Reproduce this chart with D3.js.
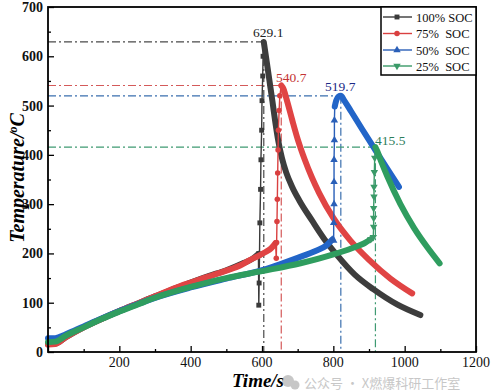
<!DOCTYPE html>
<html><head><meta charset="utf-8">
<script src="https://cdn.jsdelivr.net/npm/d3@7"></script>
<style>body{margin:0;background:#fff}svg{display:block}</style>
</head><body>
<svg id="c" width="492" height="392"></svg>
<script>
// ---- data ----
const seriesNames = ["100% SOC", "75%  SOC", "50%  SOC", "25%  SOC"];
const timeTicks = [200, 400, 600, 800, 1000, 1200];
const tempTicks = [0, 100, 200, 300, 400, 500, 600, 700];
const peakTimes = [605, 654, 821, 918];
const peakTemps = [629.1, 540.7, 519.7, 415.5];
const peakLabels = ["629.1", "540.7", "519.7", "415.5"];

const soc100Base = [[0,16],[20,17],[50,30],[100,50],[150,67],[200,83],[250,98],[300,113],[350,127],[400,141],[450,154],[500,166],[550,181],[575,190],[590,199]];
const soc100Rise = [[590,199],[591,95],[592,140],[593,197],[594,262],[596,330],[597,390],[599,450],[600,510],[602,560],[603,600],[605,629.1]];
const soc100Decay = [[605,629.1],[613,590],[621,550],[629,510],[637,468],[646,427],[656,393],[668,364],[684,336],[705,307],[741,266],[775,229],[811,196],[860,157],[913,127],[980,96],[1044,75]];

const soc75Base = [[0,15],[20,16],[50,30],[100,50],[150,67],[200,83],[250,98],[300,113],[371,134],[400,141],[450,153],[500,165],[540,176],[567,187],[590,195],[610,203],[625,210],[638,221]];
const soc75Rise = [[638,221],[640,190],[641,222],[642,265],[643,310],[644,363],[645,410],[646,450],[648,490],[650,520],[654,540.7]];
const soc75Decay = [[654,540.7],[660,534],[670,510],[685,470],[700,432],[720,390],[740,354],[760,323],[800,272],[848,226],[900,187],[960,149],[1021,119]];

const soc50Base = [[0,28],[20,28],[50,36],[100,52],[150,68],[200,83],[250,97],[300,110],[400,131],[500,149],[600,166],[650,178],[700,191],[750,205],[780,216],[797,228]];
const soc50Rise = [[797,228],[801,226],[801,262],[802,300],[802,345],[802,390],[803,430],[803,470],[804,498]];
const soc50Decay = [[804,498],[808,510],[814,518],[821,519.7],[830,511],[850,488],[880,453],[914,414],[950,373],[984,335]];

const soc25Base = [[0,20],[20,21],[50,33],[100,50],[150,67],[200,82],[250,96],[300,110],[370,126],[400,132],[500,150],[600,164],[708,180],[800,198],[850,210],[890,222],[905,229]];
const soc25Rise = [[905,229],[912,233],[913,254],[913,272],[913,292],[914,315],[914,335],[915,365],[916,394],[918,415.5]];
const soc25Decay = [[918,415.5],[923,408],[935,385],[951,357],[988,300],[1026,252],[1063,213],[1098,180]];

// ---- styles ----
const lineColors = ["#3d3d3d", "#e04444", "#2265c8", "#2f9d5f"];
const markColors = ["#3a3a3a", "#d94040", "#2a5fb8", "#3a9a68"];
const dashColors = ["#4a4a4a", "#d45a5a", "#3a6fae", "#3f9a72"];
const labelColors = ["#222222", "#c43434", "#1c2a86", "#2e7d5b"];
const symbols = [d3.symbolSquare, d3.symbolCircle, d3.symbolTriangle, d3.symbolTriangle];
const symRot = [0, 0, 0, 180];

const series = [
  {base: soc100Base, rise: soc100Rise, decay: soc100Decay},
  {base: soc75Base, rise: soc75Rise, decay: soc75Decay},
  {base: soc50Base, rise: soc50Rise, decay: soc50Decay},
  {base: soc25Base, rise: soc25Rise, decay: soc25Decay}
];

const svg = d3.select("#c");
const L = 48, R = 476, T = 7, B = 352;
const x = d3.scaleLinear().domain([0, 1200]).range([L, R]);
const y = d3.scaleLinear().domain([0, 700]).range([B, T]);
const serif = "'Liberation Serif','Times New Roman',serif";

// dash-dot guide lines
const g0 = svg.append("g");
peakTimes.forEach((pt, i) => {
  const py = y(peakTemps[i]), px = x(pt);
  g0.append("line").attr("x1", x(0)).attr("x2", px).attr("y1", py).attr("y2", py)
    .attr("stroke", dashColors[i]).attr("stroke-width", 1.2).attr("stroke-dasharray", "8,3,2,3");
  g0.append("line").attr("x1", px).attr("x2", px).attr("y1", py).attr("y2", y(0))
    .attr("stroke", dashColors[i]).attr("stroke-width", 1.2).attr("stroke-dasharray", "8,3,2,3");
});

// series
const smooth = d3.line().x(d => x(d[0])).y(d => y(d[1])).curve(d3.curveMonotoneX);
const straight = d3.line().x(d => x(d[0])).y(d => y(d[1]));
series.forEach((s, i) => {
  const g = svg.append("g");
  g.append("path").attr("d", smooth(s.base)).attr("fill", "none")
    .attr("stroke", lineColors[i]).attr("stroke-width", 6).attr("stroke-linecap", "round").attr("stroke-linejoin", "round");
  g.append("path").attr("d", straight(s.rise)).attr("fill", "none")
    .attr("stroke", markColors[i]).attr("stroke-width", 1.4);
  g.selectAll("path.m").data(s.rise.slice(0, -1)).enter().append("path")
    .attr("d", d3.symbol().type(symbols[i]).size(24))
    .attr("transform", d => `translate(${x(d[0])},${y(d[1])}) rotate(${symRot[i]})`)
    .attr("fill", markColors[i]);
  g.append("path").attr("d", smooth(s.decay)).attr("fill", "none")
    .attr("stroke", lineColors[i]).attr("stroke-width", 6).attr("stroke-linecap", "round").attr("stroke-linejoin", "round");
});

// peak labels
const labelPos = [[253, 37], [276, 82], [325, 91], [375, 145]];
peakLabels.forEach((t, i) => {
  svg.append("text").attr("x", labelPos[i][0]).attr("y", labelPos[i][1])
    .attr("font-family", serif).attr("font-size", 13.5).attr("fill", labelColors[i]).text(t);
});

// axes
const xAxis = svg.append("g").attr("transform", `translate(0,${B})`);
xAxis.call(d3.axisBottom(x).tickValues(d3.range(0, 1201, 100)).tickSize(-3).tickFormat(""));
xAxis.selectAll(".tick line").attr("stroke", "#000").attr("stroke-width", 1.3);
xAxis.selectAll(".tick line").filter(d => d % 200 === 0).attr("y2", -6);
xAxis.select(".domain").remove();
timeTicks.forEach(t => {
  svg.append("text").attr("x", x(t)).attr("y", 367).attr("text-anchor", "middle")
    .attr("font-family", serif).attr("font-size", 14).attr("fill", "#111").text(t);
});

const yAxis = svg.append("g").attr("transform", `translate(${L},0)`);
yAxis.call(d3.axisLeft(y).tickValues(d3.range(0, 701, 50)).tickSize(-3).tickFormat(""));
yAxis.selectAll(".tick line").attr("stroke", "#000").attr("stroke-width", 1.3);
yAxis.selectAll(".tick line").filter(d => d % 100 === 0).attr("x2", 6);
yAxis.select(".domain").remove();
tempTicks.forEach(t => {
  svg.append("text").attr("x", 43).attr("y", y(t) + 5).attr("text-anchor", "end")
    .attr("font-family", serif).attr("font-size", 14).attr("font-weight", "bold").attr("fill", "#111").text(t);
});

// frame
svg.append("rect").attr("x", L).attr("y", T).attr("width", R - L).attr("height", B - T)
  .attr("fill", "none").attr("stroke", "#000").attr("stroke-width", 1.8);

// axis titles
svg.append("text").attr("x", 258).attr("y", 387).attr("text-anchor", "middle")
  .attr("font-family", serif).attr("font-size", 19).attr("font-weight", "bold").attr("font-style", "italic")
  .text("Time/s");
const yt = svg.append("text").attr("transform", "translate(24,178) rotate(-90)").attr("text-anchor", "middle")
  .attr("font-family", serif).attr("font-size", 20).attr("font-weight", "bold").attr("font-style", "italic");
yt.append("tspan").text("Temperature/");
yt.append("tspan").attr("font-size", 12).attr("dy", -7).text("o");
yt.append("tspan").attr("dy", 7).text("C");

// legend
const lg = svg.append("g");
lg.append("rect").attr("x", 381).attr("y", T).attr("width", R - 381).attr("height", 68)
  .attr("fill", "#fff").attr("stroke", "#000").attr("stroke-width", 1.5);
const rowsY = [17, 33.5, 50, 66];
seriesNames.forEach((n, i) => {
  lg.append("line").attr("x1", 383).attr("x2", 412).attr("y1", rowsY[i]).attr("y2", rowsY[i])
    .attr("stroke", markColors[i]).attr("stroke-width", 1.4);
  lg.append("path").attr("d", d3.symbol().type(symbols[i]).size(24))
    .attr("transform", `translate(397,${rowsY[i]}) rotate(${symRot[i]})`).attr("fill", markColors[i]);
  lg.append("text").attr("x", 416).attr("y", rowsY[i] + 4.5).attr("xml:space", "preserve")
    .style("white-space", "pre")
    .attr("font-family", serif).attr("font-size", 12.5).attr("fill", "#111").text(n);
});

// watermark
const wm = svg.append("g").attr("opacity", 0.55);
wm.append("circle").attr("cx", 288).attr("cy", 381).attr("r", 6).attr("fill", "#9a9a9a");
wm.append("circle").attr("cx", 295).attr("cy", 385).attr("r", 4.5).attr("fill", "#9a9a9a");
wm.append("text").attr("x", 304).attr("y", 388).attr("font-family", "'Noto Sans CJK SC',sans-serif")
  .attr("font-size", 13).attr("fill", "#9a9a9a").text("公众号 · X燃爆科研工作室");
</script>
</body></html>
